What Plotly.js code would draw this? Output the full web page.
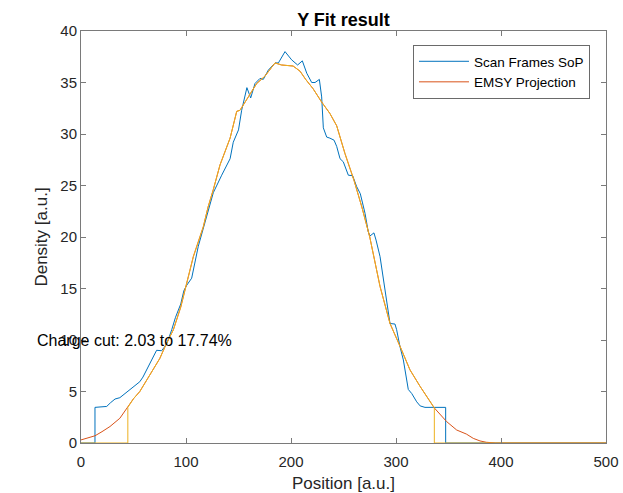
<!DOCTYPE html>
<html>
<head>
<meta charset="utf-8">
<script src="https://cdn.plot.ly/plotly-3.0.1.min.js"></script>
<style>html,body{margin:0;padding:0;background:#fff;}#chart{width:623px;height:493px;}</style>
</head>
<body>
<div id="chart"></div>
<script>
// Scan Frames SoP (measured profile)
const scanX = [0, 13.3, 13.3, 18, 24.5, 28, 32.4, 37, 43, 49.8, 56, 59, 64, 72, 76.8, 81.6, 86.4, 90, 95, 98, 100.6, 105.4, 111.7, 118, 121, 126, 134, 142, 145, 150, 153, 158, 161.6, 165.7, 170.5, 173.6, 178.4, 184.8, 188, 194.3, 200.6, 206.3, 210.8, 215, 219.7, 222.9, 227, 229.2, 230.8, 234, 237, 241, 243.5, 246.7, 249.8, 254.6, 258.7, 262.5, 266, 270.5, 273.6, 275.2, 279, 281, 284.8, 289.5, 294.3, 299, 300.6, 303.8, 307, 311.7, 315, 319.7, 323, 327.6, 347.3, 347.3, 500];
const scanY = [0, 0, 3.46, 3.5, 3.55, 3.9, 4.27, 4.4, 4.9, 5.4, 5.95, 6.4, 7.4, 9.0, 8.96, 9.6, 11.0, 12.2, 13.5, 14.8, 15.3, 16.0, 19.1, 21.3, 22.6, 24.3, 26.0, 27.6, 29.2, 30.4, 32.3, 34.5, 33.5, 34.9, 35.4, 35.3, 36.2, 36.9, 36.9, 38.0, 37.2, 36.7, 37.1, 35.9, 35.0, 35.0, 35.3, 33.6, 30.6, 29.7, 29.6, 29.4, 28.8, 27.6, 27.3, 26.0, 25.95, 24.9, 24.2, 22.3, 20.5, 20.1, 20.4, 19.7, 18.1, 14.9, 11.6, 11.55, 11.0, 9.35, 8.06, 5.2, 4.8, 4.0, 3.6, 3.46, 3.46, 0, 0];

// EMSY Projection
const projX = [0, 5, 13.3, 20, 27.6, 37, 44.6, 50, 56, 62, 69, 75, 80, 88, 95, 100, 107, 116.5, 121, 126, 132.4, 142, 148.3, 151.4, 159.3, 167.3, 175, 184.8, 191, 202, 208.6, 214, 221, 229.2, 237, 243.5, 251.4, 260, 267.5, 275, 284.8, 294.3, 304, 313.3, 322.9, 336.5, 348.3, 357.8, 367, 373.6, 380, 386, 395, 500];
const projY = [0.3, 0.45, 0.7, 1.1, 1.6, 2.4, 3.46, 4.3, 5.0, 6.0, 7.1, 8.2, 9.35, 11.0, 13.2, 15.2, 18.1, 21.0, 22.9, 24.6, 27.0, 29.6, 32.2, 32.3, 33.6, 34.9, 35.6, 36.9, 36.7, 36.6, 36.1, 35.3, 34.4, 33.1, 32.0, 30.8, 28.1, 25.5, 22.9, 20.0, 15.2, 11.6, 9.35, 7.1, 5.5, 3.4, 2.07, 1.26, 0.87, 0.45, 0.2, 0.07, 0, 0];

// Charge cut limits (position)
const cutLo = 44.6;
const cutHi = 336.5;
const annotationText = 'Charge cut: 2.03 to 17.74%';
const annotationPos = [-44, 10];
const xRange = [0, 500];
const yRange = [0, 40];

// Cut projection: projection inside [cutLo, cutHi], zero outside
const cutX = [0, cutLo];
const cutY = [0, 0];
for (let i = 0; i < projX.length; i++) {
  if (projX[i] >= cutLo && projX[i] <= cutHi) { cutX.push(projX[i]); cutY.push(projY[i]); }
}
cutX.push(cutHi, 500);
cutY.push(0, 0);

const axisColor = '#7a7a7a';
const textColor = '#262626';
const fontFam = '"Liberation Sans", Arial, Helvetica, sans-serif';

const traces = [
  {x: scanX, y: scanY, type: 'scatter', mode: 'lines', name: 'Scan Frames SoP',
   line: {color: '#0072BD', width: 1}},
  {x: projX, y: projY, type: 'scatter', mode: 'lines', name: 'EMSY Projection',
   line: {color: '#D95319', width: 1}},
  {x: cutX, y: cutY, type: 'scatter', mode: 'lines', name: 'cut', showlegend: false,
   line: {color: '#EDB120', width: 1}}
];

const layout = {
  width: 623, height: 493,
  margin: {l: 81, r: 17, t: 31, b: 50},
  paper_bgcolor: '#fff', plot_bgcolor: '#fff',
  font: {family: fontFam, color: textColor, size: 15},
  title: {text: '<b>Y Fit result</b>', font: {size: 18, color: '#000', family: fontFam},
          xref: 'paper', x: 0.5, xanchor: 'center', yref: 'container', y: 1 - 20/493, yanchor: 'middle'},
  xaxis: {range: xRange, tickvals: [0, 100, 200, 300, 400, 500], ticks: 'inside', ticklen: 5,
          tickcolor: axisColor, linecolor: axisColor, linewidth: 1, mirror: 'ticks', showline: true,
          showgrid: false, zeroline: false, tickfont: {size: 15, color: textColor}, ticklabelstandoff: 5,
          title: {text: 'Position [a.u.]', font: {size: 17, color: textColor}, standoff: 11}},
  yaxis: {range: yRange, tickvals: [0, 5, 10, 15, 20, 25, 30, 35, 40], ticks: 'inside', ticklen: 5,
          tickcolor: axisColor, linecolor: axisColor, linewidth: 1, mirror: 'ticks', showline: true,
          showgrid: false, zeroline: false, tickfont: {size: 15, color: textColor},
          title: {text: 'Density [a.u.]', font: {size: 17, color: textColor}, standoff: 8}},
  legend: {x: 0.9695, xanchor: 'right', y: 0.966, yanchor: 'top', bgcolor: '#fff', itemwidth: 50,
           bordercolor: '#6a6a6a', borderwidth: 1, font: {size: 13.5, color: '#000'}, tracegroupgap: 0},
  annotations: [{x: (annotationPos[0] - xRange[0]) / (xRange[1] - xRange[0]),
                 y: (annotationPos[1] - yRange[0]) / (yRange[1] - yRange[0]),
                 xref: 'paper', yref: 'paper', text: annotationText, showarrow: false,
                 xanchor: 'left', yanchor: 'middle', font: {size: 16, color: '#000'}}],
  showlegend: true
};

Plotly.newPlot('chart', traces, layout, {displayModeBar: false, staticPlot: true});
</script>
</body>
</html>
